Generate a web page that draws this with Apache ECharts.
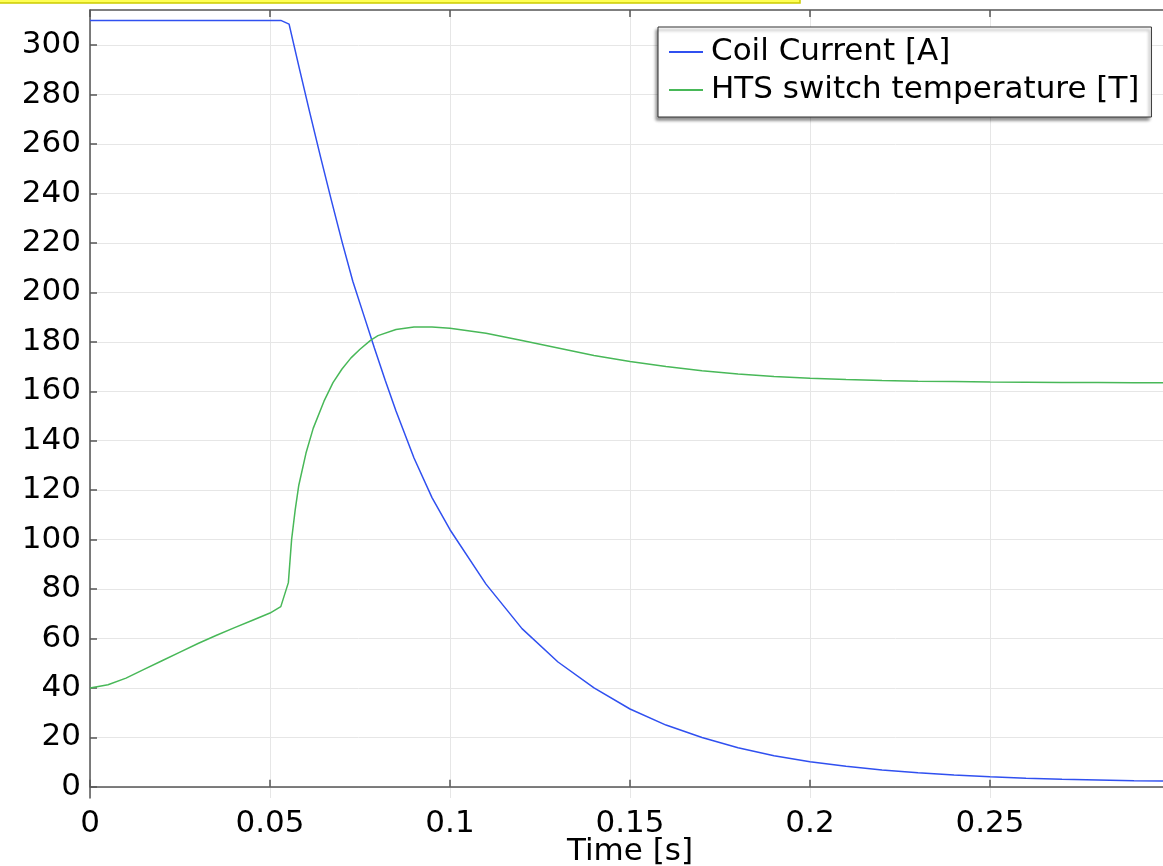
<!DOCTYPE html>
<html>
<head>
<meta charset="utf-8">
<script src="https://cdn.jsdelivr.net/npm/echarts@6/dist/echarts.min.js"></script>
<style>
  html, body { margin: 0; padding: 0; background: #fff; }
  #chart { width: 1163px; height: 866px; }
</style>
</head>
<body>
<div id="chart"></div>
<script>
  // time [s] and values
  const coilTime = [0, 0.053, 0.0553, 0.058, 0.061, 0.064, 0.067, 0.07, 0.073, 0.076, 0.079,
    0.082, 0.085, 0.09, 0.095, 0.1, 0.11, 0.12, 0.13, 0.14, 0.15, 0.16, 0.17, 0.18, 0.19, 0.2,
    0.21, 0.22, 0.23, 0.24, 0.25, 0.26, 0.27, 0.28, 0.29, 0.3]
  const coilCurrent = [310, 310, 308.5, 291.5, 273, 255, 237.5, 220.5, 204.5, 191, 177.5,
    164.5, 152, 133, 117, 104, 82, 64, 50.5, 40, 31.5, 25, 20, 15.8, 12.6, 10.2,
    8.3, 6.8, 5.7, 4.8, 4.1, 3.5, 3.1, 2.8, 2.5, 2.3]

  const hplTime = [0, 0.005, 0.01, 0.015, 0.02, 0.025, 0.03, 0.035, 0.04, 0.045, 0.05, 0.053,
    0.0551, 0.056, 0.057, 0.058, 0.06, 0.062, 0.065, 0.0675, 0.07, 0.0725, 0.075, 0.078, 0.08,
    0.085, 0.09, 0.095, 0.1, 0.11, 0.12, 0.13, 0.14, 0.15, 0.16, 0.17, 0.18, 0.19, 0.2, 0.21,
    0.22, 0.23, 0.24, 0.25, 0.26, 0.27, 0.28, 0.29, 0.3]
  const switchTemp = [40, 41.3, 44, 47.5, 51, 54.5, 58, 61.2, 64.3, 67.3, 70.3, 72.9,
    82.6, 100, 112, 122, 135, 145, 156, 163.5, 169, 173.5, 177, 180.7, 182.5,
    185, 186, 186, 185.5, 183.5, 180.5, 177.5, 174.5, 172, 170, 168.3, 167, 166, 165.3, 164.8,
    164.4, 164.1, 163.9, 163.7, 163.6, 163.5, 163.5, 163.4, 163.4]

  const yTicks = [0, 20, 40, 60, 80, 100, 120, 140, 160, 180, 200, 220, 240, 260, 280, 300]

  const seriesNames = ['Coil Current [A]', 'HTS switch temperature [T]']

  const font = 'DejaVu Sans'
  const axisColor = '#555'
  const gridColor = '#e6e6e6'

  const myChart = echarts.init(document.getElementById('chart'))

  const pairs = (xs, ys) => xs.map((x, i) => [x, ys[i]])

  const option = {
    animation: false,
    backgroundColor: '#fff',
    grid: { left: 90, right: -7, top: 10, bottom: 68, outerBoundsMode: 'none', containLabel: false },
    graphic: [{
      type: 'rect',
      shape: { x: -2, y: -5, width: 802, height: 8 },
      style: { fill: '#ffff55', stroke: '#cccc00', lineWidth: 1.5 },
      z: 100
    }],
    legend: {
      left: 658,
      top: 27,
      orient: 'vertical',
      itemWidth: 34,
      itemHeight: 14,
      itemGap: 6,
      padding: [9, 12, 11, 10],
      backgroundColor: '#fff',
      borderColor: '#333',
      borderWidth: 1,
      borderRadius: 0,
      shadowColor: 'rgba(0,0,0,0.45)',
      shadowBlur: 3,
      shadowOffsetX: -2,
      shadowOffsetY: 3,
      itemStyle: { opacity: 0 },
      textStyle: { fontFamily: font, fontSize: 31, color: '#000', lineHeight: 32, padding: [0, 0, 0, 3] },
      data: seriesNames
    },
    xAxis: [{
      type: 'value',
      min: 0,
      max: 0.3,
      interval: 0.05,
      position: 'bottom',
      name: 'Time [s]',
      nameLocation: 'middle',
      nameGap: 38,
      nameMoveOverlap: false,
      nameTextStyle: { fontFamily: font, fontSize: 31, color: '#000' },
      axisLine: { show: true, lineStyle: { color: axisColor, width: 1.5 } },
      axisTick: { show: true, inside: true, length: 7, lineStyle: { color: axisColor, width: 1.5 } },
      axisLabel: { fontFamily: font, fontSize: 31, color: '#000', margin: 10, showMaxLabel: false },
      splitLine: { show: true, lineStyle: { color: gridColor, width: 1 } }
    }, {
      type: 'value',
      min: 0,
      max: 0.3,
      interval: 0.05,
      position: 'top',
      axisLine: { show: true, lineStyle: { color: axisColor, width: 1.5 } },
      axisTick: { show: true, inside: true, length: 7, lineStyle: { color: axisColor, width: 1.5 } },
      axisLabel: { show: false },
      splitLine: { show: false }
    }],
    yAxis: {
      type: 'value',
      min: -4.5,
      max: 314.2,
      axisLine: { show: true, lineStyle: { color: axisColor, width: 1.5 } },
      axisTick: { show: true, inside: true, length: 7, customValues: yTicks, lineStyle: { color: axisColor, width: 1.5 } },
      axisLabel: { fontFamily: font, fontSize: 31, color: '#000', margin: 9, customValues: yTicks },
      splitLine: { show: true, lineStyle: { color: gridColor, width: 1 } }
    },
    series: [
      {
        name: seriesNames[0],
        type: 'line',
        symbol: 'none',
        color: '#3050f0',
        lineStyle: { color: '#3050f0', width: 1.5 },
        data: pairs(coilTime, coilCurrent)
      },
      {
        name: seriesNames[1],
        type: 'line',
        symbol: 'none',
        color: '#48b858',
        lineStyle: { color: '#48b858', width: 1.5 },
        data: pairs(hplTime, switchTemp)
      }
    ]
  }
  myChart.setOption(option)
</script>
</body>
</html>
